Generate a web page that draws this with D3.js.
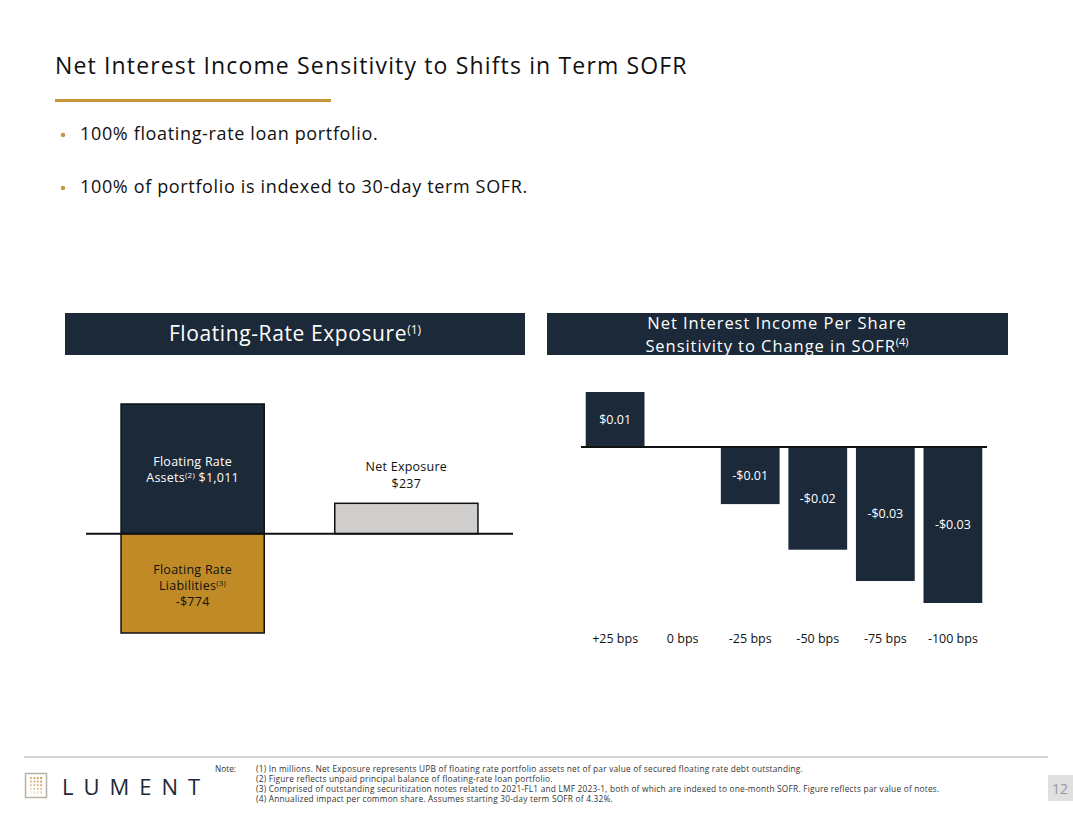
<!DOCTYPE html>
<html>
<head>
<meta charset="utf-8">
<script src="https://cdn.jsdelivr.net/npm/d3@7"></script>
<style>
  body { margin: 0; background: #fff; }
  svg { display: block; font-family: "Open Sans", "Noto Sans", sans-serif; }
</style>
</head>
<body>
<svg id="slide" width="1073" height="829"></svg>
<script>
const svg = d3.select("#slide");

const navy = "#1b2938";
const gold = "#c08b26";

// Floating-rate exposure (in millions)
const exposureCategories = ["Assets", "Liabilities", "Net Exposure"];
const exposureValues = [1011, -774, 237];

// NII per share sensitivity
const shiftLabels = ["+25 bps", "0 bps", "-25 bps", "-50 bps", "-75 bps", "-100 bps"];
const niiValues = [0.0100, 0, -0.0104, -0.0187, -0.0244, -0.0284];
const niiLabels = ["$0.01", "", "-$0.01", "-$0.02", "-$0.03", "-$0.03"];

const bullets = [
  "100% floating-rate loan portfolio.",
  "100% of portfolio is indexed to 30-day term SOFR."
];

const notes = [
  "(1) In millions. Net Exposure represents UPB of floating rate portfolio assets net of par value of secured floating rate debt outstanding.",
  "(2) Figure reflects unpaid principal balance of floating-rate loan portfolio.",
  "(3) Comprised of outstanding securitization notes related to 2021-FL1 and LMF 2023-1, both of which are indexed to one-month SOFR. Figure reflects par value of notes.",
  "(4) Annualized impact per common share. Assumes starting 30-day term SOFR of 4.32%."
];

// Title
svg.append("text")
  .attr("x", 55).attr("y", 74)
  .style("font-size", "23px")
  .style("letter-spacing", "1.15px")
  .style("fill", "#111")
  .text("Net Interest Income Sensitivity to Shifts in Term SOFR");

svg.append("rect")
  .attr("x", 55).attr("y", 99).attr("width", 276).attr("height", 3)
  .attr("fill", "#c8963a");

// Bullets
bullets.forEach((b, i) => {
  const y = 140 + i * 53;
  svg.append("circle").attr("cx", 63).attr("cy", y - 5).attr("r", 2.2).attr("fill", "#c8963a");
  svg.append("text").attr("x", 80).attr("y", y)
    .style("font-size", "18px").style("letter-spacing", "0.65px")
    .style("fill", "#111").text(b);
});

// Panel headers
svg.append("rect").attr("x", 65).attr("y", 313).attr("width", 460).attr("height", 42).attr("fill", navy);
const h1 = svg.append("text").attr("x", 295).attr("y", 341).attr("text-anchor", "middle")
  .style("font-size", "21px").style("letter-spacing", "0.6px").style("fill", "#fff");
h1.append("tspan").text("Floating-Rate Exposure");
h1.append("tspan").attr("dy", -7).style("font-size", "12px").style("letter-spacing", "0").text("(1)");

svg.append("rect").attr("x", 547).attr("y", 313).attr("width", 461).attr("height", 42).attr("fill", navy);
svg.append("text").attr("x", 777).attr("y", 329).attr("text-anchor", "middle")
  .style("font-size", "16.5px").style("letter-spacing", "0.95px").style("fill", "#fff")
  .text("Net Interest Income Per Share");
const h2 = svg.append("text").attr("x", 777).attr("y", 352).attr("text-anchor", "middle")
  .style("font-size", "16.5px").style("letter-spacing", "0.95px").style("fill", "#fff");
h2.append("tspan").text("Sensitivity to Change in SOFR");
h2.append("tspan").attr("dy", -6).style("font-size", "11px").style("letter-spacing", "0").text("(4)");

// ---- Left chart: floating-rate exposure ----
const yLeft = d3.scaleLinear().domain([-774, 1011]).range([633, 404]);
const xLeft = d3.scaleBand().domain(["Gross", "Net Exposure"]).range([86, 513])
  .paddingInner(0.33).paddingOuter(0.164);

const leftBars = [
  { col: "Gross", v: exposureValues[0], fill: navy },
  { col: "Gross", v: exposureValues[1], fill: gold },
  { col: "Net Exposure", v: exposureValues[2], fill: "#d0cfcd" }
];

svg.append("g").selectAll("rect").data(leftBars).join("rect")
  .attr("x", d => xLeft(d.col))
  .attr("width", xLeft.bandwidth())
  .attr("y", d => yLeft(Math.max(0, d.v)))
  .attr("height", d => Math.abs(yLeft(d.v) - yLeft(0)))
  .attr("fill", d => d.fill)
  .attr("stroke", "#111")
  .attr("stroke-width", 1.5);

svg.append("line")
  .attr("x1", 86).attr("x2", 513)
  .attr("y1", yLeft(0)).attr("y2", yLeft(0))
  .attr("stroke", "#111").attr("stroke-width", 2);

const gx = xLeft("Gross") + xLeft.bandwidth() / 2;
const nx = xLeft("Net Exposure") + xLeft.bandwidth() / 2;
const fmt = d3.format("$,");

function label(x, y, parts, color) {
  const t = svg.append("text").attr("x", x).attr("y", y).attr("text-anchor", "middle")
    .style("font-size", "12.5px").style("letter-spacing", "0.25px").style("fill", color);
  parts.forEach(p => {
    if (p.sup) t.append("tspan").attr("dy", -4).style("font-size", "8px").text(p.sup);
    else t.append("tspan").attr("dy", p.reset ? 4 : 0).text(p.t);
  });
  return t;
}

label(gx, 466, [{ t: "Floating Rate" }], "#fff");
label(gx, 482, [{ t: "Assets" }, { sup: "(2)" }, { t: " " + fmt(exposureValues[0]), reset: true }], "#fff");

label(nx, 471, [{ t: exposureCategories[2] }], "#111");
label(nx, 488, [{ t: fmt(exposureValues[2]) }], "#111");

label(gx, 574, [{ t: "Floating Rate" }], "#111");
label(gx, 590, [{ t: "Liabilities" }, { sup: "(3)" }], "#111");
label(gx, 606, [{ t: "-" + fmt(-exposureValues[1]) }], "#111");

// ---- Right chart: NII sensitivity ----
const xRight = d3.scaleBand().domain(shiftLabels).range([581, 987]).paddingInner(0.13).paddingOuter(0.07);
const yRight = d3.scaleLinear().domain([-0.0284, 0.01]).range([603, 392]);

const niiData = shiftLabels.map((s, i) => ({ s, v: niiValues[i], lab: niiLabels[i] }));

svg.append("g").selectAll("rect").data(niiData.filter(d => d.v !== 0)).join("rect")
  .attr("x", d => xRight(d.s))
  .attr("width", xRight.bandwidth())
  .attr("y", d => yRight(Math.max(0, d.v)))
  .attr("height", d => Math.abs(yRight(d.v) - yRight(0)))
  .attr("fill", navy);

svg.append("line")
  .attr("x1", 581).attr("x2", 987)
  .attr("y1", yRight(0)).attr("y2", yRight(0))
  .attr("stroke", "#111").attr("stroke-width", 2);

svg.append("g").selectAll("text").data(niiData.filter(d => d.lab)).join("text")
  .attr("x", d => xRight(d.s) + xRight.bandwidth() / 2)
  .attr("y", d => (yRight(d.v) + yRight(0)) / 2 + 4.5)
  .attr("text-anchor", "middle")
  .style("font-size", "12.5px").style("fill", "#fff")
  .text(d => d.lab);

const xAxis = d3.axisBottom(xRight).tickSize(0).tickPadding(0);
svg.append("g")
  .attr("transform", "translate(0,634)")
  .call(xAxis)
  .call(g => g.select(".domain").remove())
  .call(g => g.selectAll("text").style("font-size", "12.5px").style("fill", "#111")
    .style("font-family", "'Open Sans', sans-serif"));

// ---- Footer ----
svg.append("line").attr("x1", 24).attr("x2", 1048).attr("y1", 757).attr("y2", 757)
  .attr("stroke", "#c8c8c8").attr("stroke-width", 1.5);

// logo mark
svg.append("rect").attr("x", 25.5).attr("y", 773.5).attr("width", 21).attr("height", 24)
  .attr("fill", "none").attr("stroke", "#b8b2a6").attr("stroke-width", 1.5);
const dots = d3.range(5).flatMap(r => d3.range(4).map(c => ({ r, c })));
svg.append("g").selectAll("circle").data(dots).join("circle")
  .attr("cx", d => 31 + d.c * 3.4)
  .attr("cy", d => 778 + d.r * 3.6)
  .attr("r", 1.1)
  .attr("fill", gold)
  .attr("opacity", d => 1 - d.r * 0.15 - (3 - d.c) * 0.08);

svg.append("text").attr("x", 62).attr("y", 795)
  .style("font-size", "22px").style("letter-spacing", "10px").style("fill", navy)
  .style("font-family", "'Open Sans', sans-serif")
  .text("LUMENT");

svg.append("text").attr("x", 215).attr("y", 772)
  .style("font-size", "8.3px").style("fill", "#333").text("Note:");
svg.append("g").selectAll("text").data(notes).join("text")
  .attr("x", 256).attr("y", (d, i) => 772 + i * 10)
  .style("font-size", "8.3px").style("letter-spacing", "0.22px").style("fill", "#333")
  .text(d => d);

svg.append("rect").attr("x", 1048).attr("y", 775).attr("width", 25).attr("height", 26).attr("fill", "#e0e0e0");
svg.append("text").attr("x", 1060).attr("y", 794).attr("text-anchor", "middle")
  .style("font-size", "14px").style("fill", "#9a9a9a").text("12");
</script>
</body>
</html>
